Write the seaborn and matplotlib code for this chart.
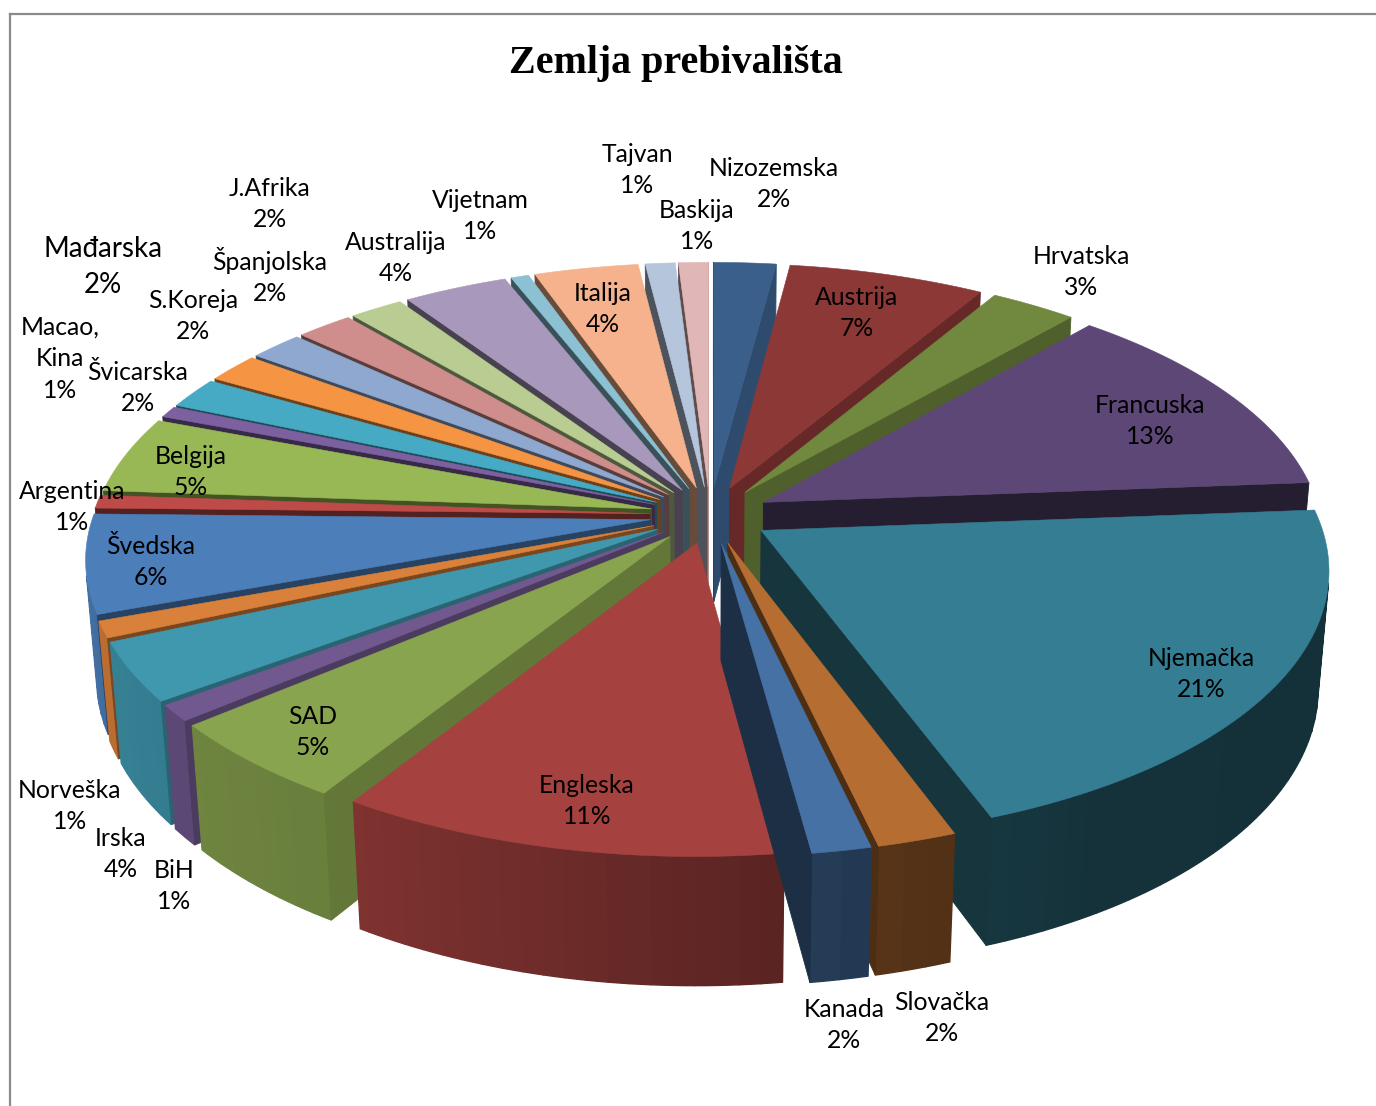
import numpy as np
import seaborn as sns
import matplotlib
matplotlib.use('Agg')
import matplotlib.pyplot as plt

# podaci - zemlje, vrijednosti (procjena s grafa) i tekst oznaka
zemlje = ["Nizozemska", "Austrija", "Hrvatska", "Francuska", "Njemačka", "Slovačka", "Kanada",
          "Engleska", "SAD", "BiH", "Irska", "Norveška", "Švedska", "Argentina", "Belgija",
          "Macao,\nKina", "Švicarska", "Mađarska", "S.Koreja", "Španjolska", "J.Afrika",
          "Australija", "Vijetnam", "Italija", "Tajvan", "Baskija"]
vrijednosti = [2.1, 6.6, 2.9, 12.5, 20.9, 2.0, 1.5,
               11.3, 5.0, 1.0, 3.6, 1.0, 6.0, 0.8, 4.7,
               0.7, 1.9, 1.8, 1.8, 1.9, 1.8,
               3.5, 0.6, 3.5, 1.0, 1.0]
postoci = [2, 7, 3, 13, 21, 2, 2, 11, 5, 1, 4, 1, 6, 1, 5, 1, 2, 2, 2, 2, 2, 4, 1, 4, 1, 1]

boje = ["#3A5F8B", "#8C3836", "#71893F", "#5C4776", "#347D92", "#B66D31", "#4671A5",
        "#A5423F", "#88A44E", "#71588F", "#4098AF", "#D9803A", "#4C7EBA", "#BE4B48", "#98B855",
        "#7D60A0", "#46AAC5", "#F59443", "#8FA8CF", "#CF8E8C", "#B9CD92",
        "#A899BC", "#8CC0D3", "#F5B28C", "#B5C5DC", "#E0B7B6"]

# pozicije oznaka na slici (piksel)
oznake_xy = [(774, 184), (857, 313), (1081, 272), (1150, 421), (1201, 674), (942, 1018), (844, 1025),
             (587, 801), (313, 732), (174, 886), (121, 854), (70, 806), (151, 562), (72, 507), (191, 472),
             (60, 359), (138, 388), (103, 267), (193, 316), (270, 276), (270, 204),
             (396, 258), (480, 216), (603, 309), (637, 170), (697, 226)]

# perspektiva
CX, CY = 710, 515
ELEV = np.radians(28.1)
D = 6.48
F = 3610
VISINA = 0.24
ODMAK = 0.108

KUT_ZID = [90, 150, 165, 172, 212, 240, 265]
SJENA_ZID = [.38, .40, .47, .54, .77, .83, .9]


def proj(x, y, z):
    w = y * np.cos(ELEV) - z * np.sin(ELEV)
    v = y * np.sin(ELEV) + z * np.cos(ELEV)
    s = F / (D + w)
    return CX + x * s, CY - v * s


def lice(ax, px, py, boja, lw=0.6):
    # samo lica okrenuta prema kameri (shoelace)
    povrsina = np.sum(px * np.roll(py, -1) - np.roll(px, -1) * py)
    if povrsina < 0:
        ax.fill(px, py, color=boja, lw=lw)


sns.set_theme(style='white')
plt.rcParams['font.family'] = ['Lato', 'DejaVu Sans']

fig = plt.figure(figsize=(13.76, 11.06), dpi=100, facecolor='white')
ax = fig.add_axes([10 / 1376, 0, 1366 / 1376, 1092 / 1106])
ax.set_xlim(10, 1376)
ax.set_ylim(1106, 14)
ax.set_xticks([])
ax.set_yticks([])
sns.despine(ax=ax, top=False, left=False, right=True, bottom=True)
for s in ['left', 'top']:
    ax.spines[s].set_color('#8a8a8a')
    ax.spines[s].set_linewidth(1.6)

paleta = sns.color_palette(boje)
rubovi = np.concatenate([[0], np.cumsum(vrijednosti)]) / sum(vrijednosti) * 2 * np.pi
sredine = (rubovi[:-1] + rubovi[1:]) / 2

# straga prema naprijed
for i in np.argsort(-np.cos(sredine)):
    a, b = rubovi[i], rubovi[i + 1]
    c = np.array(paleta[i])
    ox, oy = ODMAK * np.sin(sredine[i]), ODMAK * np.cos(sredine[i])
    t = np.linspace(a, b, max(3, int((b - a) * 60)))
    rx, ry = np.sin(t) + ox, np.cos(t) + oy

    # vanjski zid: uske trake, sjena ovisi o kutu
    for j in range(0, len(t) - 1, 2):
        k = min(j + 3, len(t))
        f = np.interp(np.degrees(t[j:k].mean()), KUT_ZID, SJENA_ZID)
        qx = np.concatenate([rx[j:k], rx[j:k][::-1]])
        qy = np.concatenate([ry[j:k], ry[j:k][::-1]])
        qz = np.concatenate([np.zeros(k - j), np.full(k - j, -VISINA)])
        lice(ax, *proj(qx, qy, qz), c * f, lw=1.0)

    # radijalni zidovi
    for kut, rx0, ry0, prvi in [(a, rx[0], ry[0], True), (b, rx[-1], ry[-1], False)]:
        n = np.degrees(kut) + (-90 if prvi else 90)
        f = np.interp(n % 360, [95, 125, 145, 175, 183, 250], [.8, .72, .65, .4, .45, .42])
        if prvi:
            qx, qy = np.array([ox, rx0, rx0, ox]), np.array([oy, ry0, ry0, oy])
        else:
            qx, qy = np.array([rx0, ox, ox, rx0]), np.array([ry0, oy, oy, ry0])
        lice(ax, *proj(qx, qy, np.array([0, 0, -VISINA, -VISINA])), c * f)

    # gornja ploha
    gx = np.concatenate([[ox], rx])
    gy = np.concatenate([[oy], ry])
    px, py = proj(gx, gy, np.zeros_like(gx))
    ax.fill(px, py, color=c, lw=0.4)

for naziv, p, (x, y) in zip(zemlje, postoci, oznake_xy):
    ax.text(x, y, f"{naziv}\n{p}%", ha='center', va='center', color='black',
            fontsize=20 if naziv == "Mađarska" else 17.8, linespacing=1.47)

ax.text(676, 63, "Zemlja prebivališta", ha='center', va='center', fontsize=28.9,
        fontweight='bold', family=['Liberation Serif'], color='black')

fig.savefig('out.png', dpi=100)
